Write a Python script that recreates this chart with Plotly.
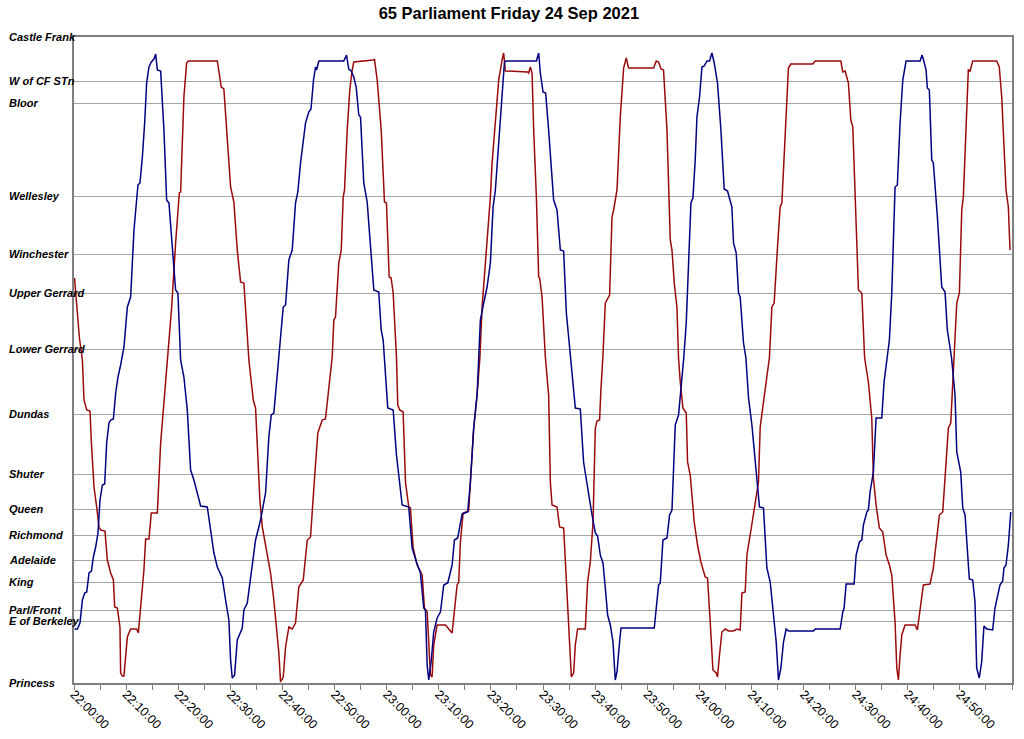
import plotly.graph_objects as go

# Stops and their position along the route (distance units from Princess)
stop_names = ["Castle Frank", "W of CF STn", "Bloor", "Wellesley", "Winchester",
              "Upper Gerrard", "Lower Gerrard", "Dundas", "Shuter", "Queen",
              "Richmond", "Adelaide", "King", "Parl/Front", "E of Berkeley", "Princess"]
stop_pos = [646, 602, 580, 487, 429, 390, 334, 269, 209, 174, 148, 123, 101, 73, 62, 0]

# Time axis: minutes after 22:00:00
tick_minutes = [0, 10, 20, 30, 40, 50, 60, 70, 80, 90, 100, 110, 120, 130, 140, 150, 160, 170]
tick_labels = ["22:00:00", "22:10:00", "22:20:00", "22:30:00", "22:40:00", "22:50:00",
               "23:00:00", "23:10:00", "23:20:00", "23:30:00", "23:40:00", "23:50:00",
               "24:00:00", "24:10:00", "24:20:00", "24:30:00", "24:40:00", "24:50:00"]

# Vehicle 1 (dark red)
red_t = [0.1, 1.04, 1.61, 1.92, 2.44, 3.07, 3.34, 3.84, 4.35, 4.79, 5.12, 5.94, 6.40, 7.04, 7.56,
         7.80, 8.32, 8.82, 8.95, 9.28, 9.59, 9.91, 10.24, 10.87, 12.02, 12.35, 12.79, 13.42, 13.75,
         14.38, 14.84, 15.99, 16.63, 17.26, 17.91, 18.73, 19.50, 19.94, 20.21, 20.46, 21.09, 21.61,
         21.94, 27.50, 28.26, 28.76, 30.05, 30.68, 31.33, 31.97, 32.60, 33.56, 34.40, 34.84, 35.17,
         35.67, 36.13, 36.76, 37.72, 38.35, 39.31, 39.64, 40.15, 40.60, 41.23, 41.88, 42.51, 43.14,
         43.99, 44.76, 45.39, 46.16, 46.79, 47.63, 48.26, 48.90, 49.55, 49.86, 50.18, 50.81, 51.28,
         51.66, 51.91, 52.43, 52.92, 53.38, 53.69, 57.41, 57.66, 58.18, 58.95, 59.58, 59.96, 60.48,
         60.86, 61.25, 61.88, 62.13, 62.51, 63.16, 63.61, 64.24, 64.56, 65.08, 65.85, 66.81, 67.25,
         67.77, 68.40, 68.72, 69.03, 69.68, 71.28, 72.56, 73.00, 73.52, 73.83, 74.15, 74.67, 75.74,
         76.07, 76.70, 77.35, 77.89, 78.31, 78.94, 79.90, 80.23, 80.86, 81.50, 82.15, 82.45, 82.78,
         87.06, 87.25, 87.57, 87.90, 88.21, 88.73, 89.17, 89.36, 89.82, 90.45, 91.08, 91.41, 91.74,
         92.69, 93.19, 93.96, 94.61, 95.11, 95.44, 95.88, 96.20, 96.64, 98.12, 98.56, 99.08, 99.60,
         100.04, 100.36, 100.86, 101.13, 101.48, 101.96, 102.78, 103.24, 103.55, 104.20, 104.83,
         105.47, 105.98, 106.42, 111.22, 111.74, 112.18, 112.64, 113.13, 113.79, 114.42, 114.75,
         115.19, 115.70, 116.01, 116.34, 116.85, 117.49, 117.74, 118.25, 119.02, 119.65, 120.30,
         121.13, 121.57, 122.09, 122.61, 123.24, 123.49, 123.87, 124.33, 124.97, 125.60, 126.56,
         127.21, 127.84, 128.17, 128.80, 129.13, 130.09, 130.39, 131.35, 131.68, 132.64, 133.46,
         133.92, 134.36, 135.00, 135.51, 135.84, 136.47, 137.10, 137.56, 141.78, 142.22, 147.15,
         147.53, 147.98, 148.61, 149.07, 149.45, 149.89, 150.53, 151.18, 151.72, 152.44, 153.09,
         153.40, 153.92, 154.55, 155.20, 155.84, 156.47, 156.93, 157.56, 157.89, 158.20, 158.52,
         158.85, 159.48, 161.40, 161.84, 162.22, 162.99, 164.27, 164.91, 165.56, 166.06, 166.71,
         167.15, 167.79, 168.25, 168.63, 168.98, 169.40, 169.90, 170.36, 170.66, 171.18, 171.62,
         171.95, 172.46, 177.07, 177.56, 178.03, 178.47, 178.85, 179.30, 179.62]
red_pos = [405, 345, 323, 283, 273, 272, 240, 196, 176, 156, 153, 152, 123, 110, 103,
           76, 75, 56, 10, 7, 7, 30, 46, 54, 54, 50, 76, 113, 144,
           144, 170, 170, 240, 280, 323, 375, 440, 466, 490, 491, 586, 620,
           622, 622, 596, 594, 496, 481, 433, 401, 400, 323, 283, 275, 240,
           183, 156, 136, 110, 83, 30, 1, 6, 36, 56, 54, 60, 96,
           103, 143, 146, 205, 250, 263, 264, 295, 326, 363, 366, 420, 433,
           486, 493, 553, 593, 613, 621, 623, 624, 603, 553, 481, 480, 406,
           405, 390, 326, 278, 273, 271, 201, 176, 175, 135, 118, 108, 75,
           71, 8, 6, 38, 58, 58, 50, 75, 98, 101, 141, 170, 172,
           201, 255, 288, 325, 376, 420, 486, 520, 565, 603, 623, 630, 612,
           611, 610, 616, 610, 553, 486, 406, 405, 386, 326, 288, 201, 178,
           176, 156, 155, 95, 41, 6, 10, 38, 54, 54, 101, 121, 161,
           255, 262, 263, 295, 325, 380, 388, 466, 473, 493, 566,
           615, 625, 615, 615, 622, 621, 614, 613, 553, 443, 433,
           400, 376, 325, 301, 275, 270, 221, 208, 161, 138, 121,
           106, 105, 61, 13, 10, 6, 28, 51, 54, 52, 52,
           54, 53, 90, 91, 128, 159, 168, 201, 256, 295, 326,
           376, 380, 436, 476, 480, 553, 615, 619, 619, 622, 622,
           611, 612, 600, 563, 556, 486, 393, 390, 325, 301, 265,
           205, 178, 155, 151, 128, 118, 108, 61, 15, 3, 28,
           48, 58, 58, 53, 68, 98, 99, 115, 145, 168, 171,
           208, 255, 260, 298, 325, 380, 390, 473, 486, 546, 613,
           612, 622, 622, 616, 586, 526, 493, 476, 433]

# Vehicle 2 (dark blue)
blue_t = [0.1, 0.65, 1.15, 1.61, 2.05, 2.44, 2.88, 3.34, 3.72, 4.16, 4.60, 4.99, 5.45, 5.89, 6.27,
          6.71, 7.04, 7.56, 8.00, 8.44, 8.95, 9.59, 10.24, 10.87, 11.51, 12.27, 12.66, 13.12, 13.56,
          13.94, 14.38, 14.84, 15.34, 15.67, 15.99, 16.63, 17.26, 17.78, 18.22, 18.87, 19.50, 19.94,
          20.46, 21.09, 21.74, 22.38, 23.01, 23.66, 24.30, 25.58, 26.08, 26.85, 27.50, 28.46, 29.09,
          29.72, 30.05, 30.37, 30.82, 31.33, 32.29, 32.60, 33.25, 33.75, 34.21, 34.84, 35.80, 36.76,
          37.39, 37.85, 38.35, 38.87, 39.31, 40.15, 40.60, 41.23, 41.88, 42.51, 42.95, 43.47, 44.43,
          45.06, 45.48, 45.96, 46.35, 46.54, 46.98, 51.77, 52.29, 52.73, 53.19, 53.69, 54.15, 54.65,
          54.98, 55.61, 56.26, 56.89, 57.53, 58.48, 58.95, 59.33, 59.58, 59.77, 60.21, 61.25, 61.88,
          62.32, 62.97, 64.24, 64.89, 65.71, 66.48, 67.11, 67.44, 67.77, 68.07, 68.53, 69.03, 69.68,
          70.32, 70.95, 71.72, 72.10, 72.56, 73.00, 73.63, 74.48, 75.55, 76.07, 76.70, 77.35, 77.98,
          78.62, 79.27, 79.90, 80.42, 80.86, 81.50, 82.15, 82.59, 82.78, 88.73, 89.17, 89.49, 90.01,
          90.51, 91.08, 91.54, 92.04, 92.69, 93.19, 93.33, 93.96, 94.48, 94.92, 95.24, 95.57, 96.20,
          97.16, 97.79, 98.12, 98.75, 99.41, 100.04, 100.48, 101.00, 101.51, 101.96, 102.40, 102.92,
          103.43, 103.87, 104.20, 104.70, 104.97, 111.35, 111.74, 112.18, 112.50, 113.02, 113.79,
          114.29, 114.75, 115.05, 115.38, 116.01, 116.66, 117.01, 117.49, 117.93, 118.39, 118.77,
          119.21, 119.54, 120.04, 120.50, 120.94, 121.46, 121.96, 122.42, 122.86, 123.49, 124.14,
          124.77, 125.41, 126.25, 126.56, 127.08, 127.52, 127.84, 128.48, 128.94, 129.44, 130.09,
          130.91, 131.54, 132.31, 132.96, 133.60, 134.23, 134.75, 135.19, 135.65, 136.15, 136.66,
          137.10, 141.90, 142.22, 147.02, 147.53, 147.78, 148.17, 149.70, 150.09, 150.72, 151.18,
          151.49, 152.14, 152.44, 152.77, 153.40, 153.92, 155.01, 155.45, 156.03, 156.47, 156.93,
          157.56, 158.00, 158.52, 159.04, 159.67, 162.36, 162.74, 163.13, 163.51, 163.76, 164.14,
          164.60, 164.91, 165.68, 166.52, 167.15, 167.59, 167.98, 168.40, 169.07, 169.40, 170.16,
          170.55, 170.99, 171.43, 171.81, 172.46, 172.90, 173.22, 173.72, 174.18, 174.62, 175.14,
          176.29, 176.73, 177.17, 177.69, 178.21, 178.46, 178.85, 179.30, 179.76]
blue_pos = [54, 54, 60, 83, 90, 91, 110, 112, 126, 136, 150, 183, 198, 199, 240,
            260, 263, 264, 290, 306, 318, 336, 376, 386, 453, 498, 500, 526, 560,
            600, 616, 621, 624, 629, 613, 612, 553, 483, 480, 436, 393, 390,
            323, 306, 273, 213, 203, 190, 177, 176, 156, 130, 116, 105, 83,
            63, 23, 5, 8, 43, 55, 73, 80, 100, 113, 143, 163, 190,
            246, 268, 270, 303, 323, 376, 378, 423, 433, 480, 491, 520, 560,
            571, 574, 603, 616, 613, 622, 622, 628, 614, 612, 606, 596, 568,
            566, 500, 481, 433, 393, 391, 353, 343, 323, 318, 275, 273, 228,
            208, 178, 176, 135, 121, 110, 75, 73, 18, 3, 21, 51, 65,
            71, 98, 100, 108, 118, 143, 145, 169, 171, 201, 255, 288, 363,
            380, 396, 420, 476, 493, 540, 590, 620, 622, 622, 630, 610, 591,
            590, 553, 520, 483, 473, 436, 433, 432, 370, 346, 326, 308, 275,
            274, 221, 210, 188, 168, 150, 147, 128, 120, 95, 68, 58,
            41, 3, 11, 41, 55, 55, 75, 98, 100, 143, 145,
            168, 173, 208, 258, 268, 301, 325, 360, 420, 480, 485,
            523, 566, 586, 616, 617, 622, 622, 630, 620, 600, 553,
            494, 492, 476, 440, 430, 390, 386, 340, 325, 285, 258,
            211, 176, 175, 115, 101, 71, 41, 3, 15, 41, 54,
            52, 52, 54, 54, 71, 75, 99, 99, 128, 141, 143,
            158, 171, 173, 191, 211, 265, 265, 301, 325, 343, 390,
            496, 498, 560, 603, 622, 622, 628, 621, 613, 595, 593,
            523, 520, 466, 396, 391, 353, 340, 325, 288, 231, 211,
            175, 168, 135, 104, 103, 81, 15, 5, 21, 57, 54,
            53, 75, 85, 98, 102, 115, 118, 138, 171]

title_text = "65 Parliament Friday 24 Sep 2021"

fig = go.Figure()
fig.add_trace(go.Scatter(x=red_t, y=red_pos, mode="lines", name="Run A",
                         line=dict(color="#9b0a0a", width=1.5)))
fig.add_trace(go.Scatter(x=blue_t, y=blue_pos, mode="lines", name="Run B",
                         line=dict(color="#000080", width=1.5)))

for name, pos in zip(stop_names, stop_pos):
    fig.add_annotation(x=-0.0715, xref="paper", y=pos, yref="y", text=name,
                       showarrow=False, xanchor="left", yanchor="middle",
                       font=dict(family="Liberation Sans", size=11, color="#000000",
                                 weight="bold", style="italic"))

fig.update_layout(
    width=1024, height=739,
    paper_bgcolor="white", plot_bgcolor="white",
    margin=dict(l=74, r=12, t=37, b=56),
    showlegend=False,
    title=dict(text=title_text, x=0.497, xref="container", xanchor="center",
               y=0.99, yref="container", yanchor="top",
               font=dict(family="Liberation Sans", size=16.5, color="#000000", weight="bold")),
    font=dict(family="Liberation Sans", color="#000000"),
)
fig.update_xaxes(range=[0, 180], tickmode="array", tickvals=tick_minutes, ticktext=tick_labels,
                 tickangle=45, tickfont=dict(size=12.5, color="#000000"), automargin=False,
                 ticklabelstandoff=-8,
                 ticks="outside", ticklen=5, tickcolor="#808080", tickwidth=1,
                 minor=dict(tickmode="linear", tick0=0, dtick=5, ticks="outside", ticklen=5,
                            tickcolor="#808080", showgrid=False),
                 showgrid=False, zeroline=False, showline=True, linecolor="#808080",
                 linewidth=2, mirror=True)
fig.update_yaxes(range=[0, 646], tickmode="array", tickvals=stop_pos, showticklabels=False,
                 ticks="", showgrid=True, gridcolor="#a6a6a6", gridwidth=1, zeroline=False,
                 automargin=False,
                 showline=True, linecolor="#808080", linewidth=2, mirror=True)

fig.write_html("out.html", config={"displayModeBar": False},
               post_script="document.body.style.margin='0';")
